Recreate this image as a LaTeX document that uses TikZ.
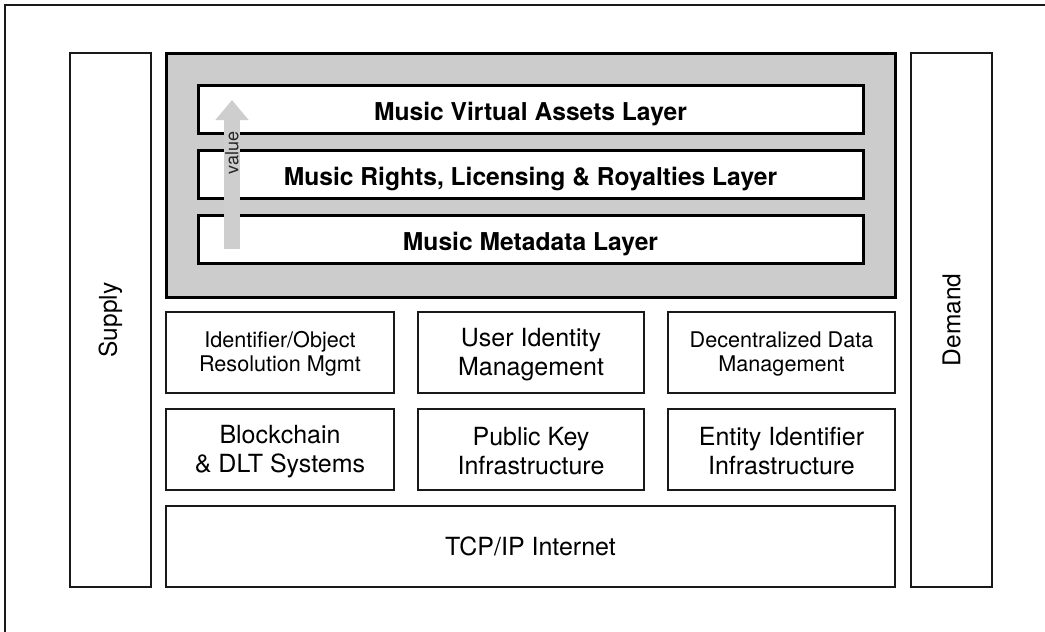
\documentclass[tikz,border=0pt]{standalone}
\usepackage{fontspec}
\setmainfont{TeX Gyre Heros}
\usetikzlibrary{arrows.meta}
\definecolor{panelgray}{RGB}{204,204,204}
\definecolor{arrowgray}{RGB}{206,206,206}
\tikzset{
  thinbox/.style={draw=black!90, line width=1.8pt, fill=white, inner sep=0pt},
  layerbox/.style={draw=black, line width=3pt, fill=white, inner sep=0pt,
    minimum width=665pt, minimum height=48pt, text height=23pt, text depth=0pt,
    font=\bfseries\fontsize{24.6}{28}\selectfont},
  bigtxt/.style={align=center, font=\fontsize{25}{29}\selectfont},
  smalltxt/.style={align=center, font=\fontsize{21.6}{24.5}\selectfont},
  sidetxt/.style={rotate=90, font=\fontsize{24.5}{28}\selectfont},
  cell/.style={thinbox, minimum width=227pt, minimum height=81pt},
}
\begin{document}
\begin{tikzpicture}[x=1pt, y=-1pt]
\useasboundingbox (0,0) rectangle (1045,632);
\fill[white] (0,0) rectangle (1045,632);
% outer frame (top and left edges only visible)
\draw[line width=1.8pt, black!90] (5,632) -- (5,5) -- (1045,5);

% side columns
\node[thinbox, minimum width=81pt, minimum height=534pt] (supply) at (110.5,320) {};
\node[sidetxt] (supplytxt) at (supply.center) {Supply};
\node[thinbox, minimum width=81pt, minimum height=534pt] (demand) at (951.5,320) {};
\node[sidetxt] (demandtxt) at (demand.center) {Demand};

% grey panel with value layers
\node[draw=black, line width=3pt, fill=panelgray, inner sep=0pt,
      minimum width=729pt, minimum height=244pt] (panel) at (530.5,175) {};
\node[layerbox] (virtual) at (530.5,109) {Music Virtual Assets Layer};
\node[layerbox] (rights) at (530.5,174) {Music Rights, Licensing \& Royalties Layer};
\node[layerbox] (meta) at (530.5,239) {Music Metadata Layer};

% value arrow
\coordinate (vbot) at (232,249);
\coordinate (vtop) at (232,100);
\draw[arrowgray, line width=16pt, -{Triangle[width=32pt,length=20pt]}] (vbot) -- (vtop);
\node[rotate=90, text=black!85, font=\fontsize{18}{20}\selectfont] (valuetxt) at (232,153) {value};

% middle row
\node[cell, minimum width=228pt] (ident) at (280,352.5) {};
\node[smalltxt] (identtxt) at ([yshift=-1.5pt]ident.center) {Identifier/Object\\Resolution Mgmt};
\node[cell, minimum width=226pt] (user) at (531,352.5) {};
\node[bigtxt] (usertxt) at ([yshift=-2pt]user.center) {User Identity\\Management};
\node[cell] (ddm) at (781.5,352.5) {};
\node[smalltxt] (ddmtxt) at ([yshift=-1.5pt]ddm.center) {Decentralized Data\\Management};

% lower row
\node[cell, minimum width=228pt] (chain) at (280,449.5) {};
\node[bigtxt] (chaintxt) at ([yshift=-2pt]chain.center) {Blockchain\\\& DLT Systems};
\node[cell, minimum width=226pt] (pki) at (531,449.5) {};
\node[bigtxt] (pkitxt) at ([yshift=-2pt]pki.center) {Public Key\\Infrastructure};
\node[cell] (eii) at (781.5,449.5) {};
\node[bigtxt] (eiitxt) at ([yshift=-2pt]eii.center) {Entity Identifier\\Infrastructure};

% internet
\node[thinbox, minimum width=729pt, minimum height=81pt] (tcp) at (530.5,546.5) {};
\node[bigtxt] (tcptxt) at (tcp.center) {TCP/IP Internet};
\end{tikzpicture}
\end{document}
